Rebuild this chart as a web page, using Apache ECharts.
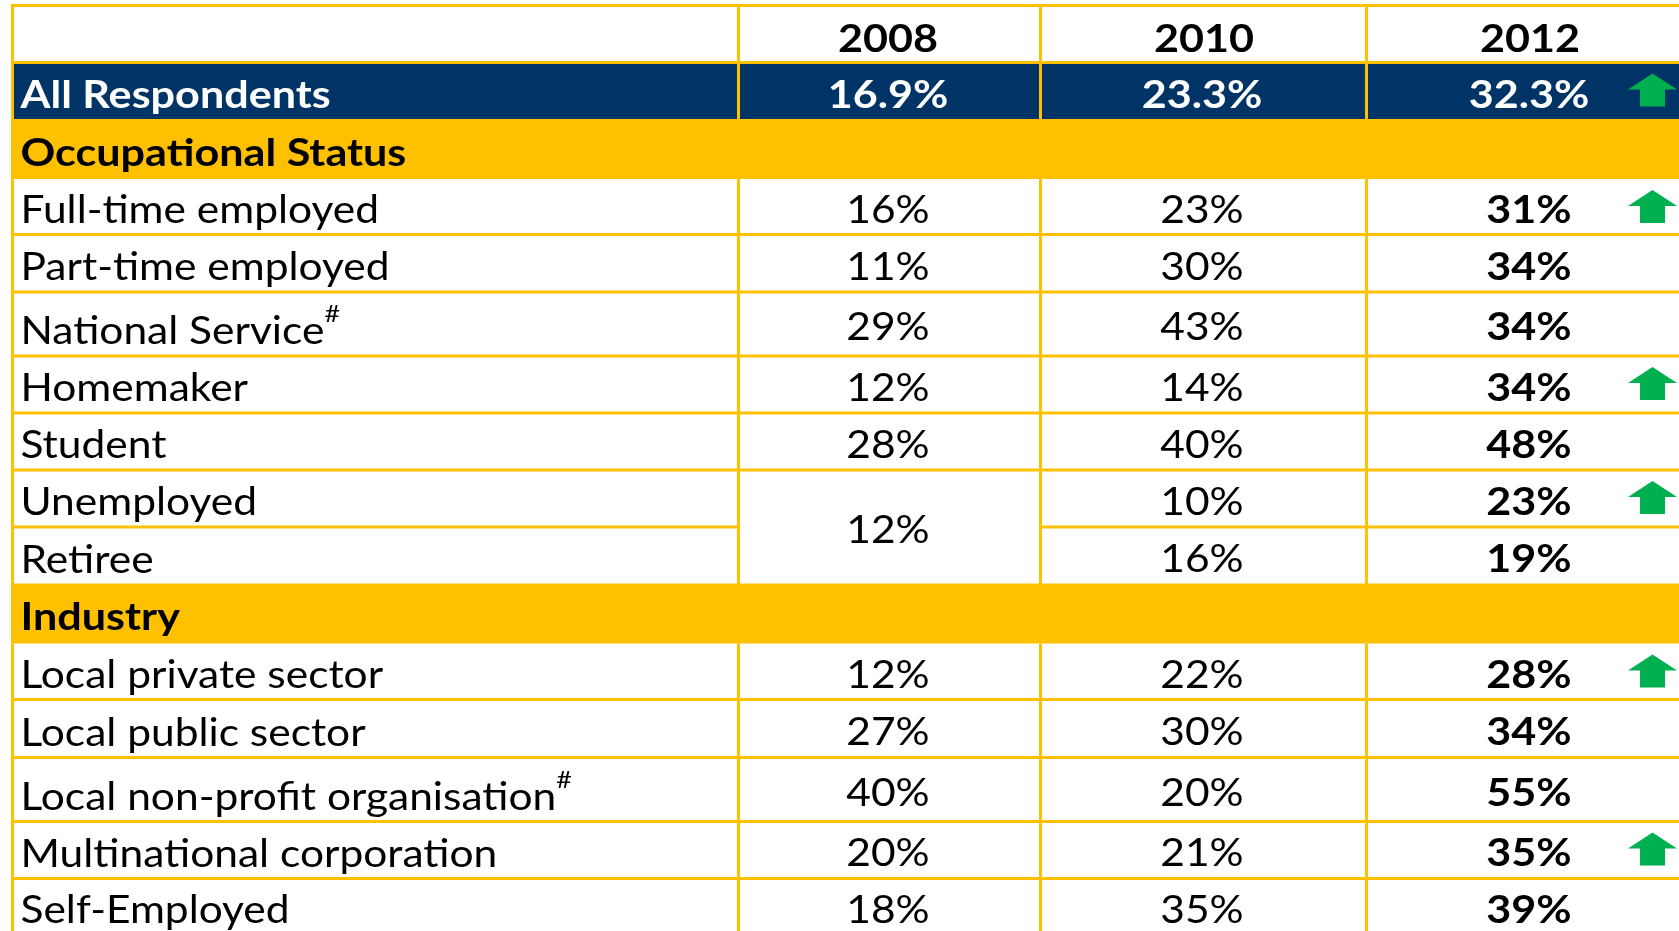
<!DOCTYPE html>
<html><head><meta charset="utf-8">
<script src="https://cdn.jsdelivr.net/npm/echarts@6/dist/echarts.min.js"></script>
<style>html,body{margin:0;padding:0;background:#fff;overflow:hidden}#c{width:1679px;height:931px}</style>
</head><body><div id="c"></div>
<script>
// ---- data ----
const years = ['2008','2010','2012'];
const overallLabel = 'All Respondents';
const overall = ['16.9%','23.3%','32.3%'];
const occupationTitle = 'Occupational Status';
const occupationLabels = ['Full-time employed','Part-time employed','National Service','Homemaker','Student','Unemployed','Retiree'];
const occupation2008 = [16,11,29,12,28,12,null];
const occupation2010 = [23,30,43,14,40,10,16];
const occupation2012 = [31,34,34,34,48,23,19];
const occupationUp = [true,false,false,true,false,true,false];
const occupationNote = [false,false,true,false,false,false,false];
const industryTitle = 'Industry';
const industryLabels = ['Local private sector','Local public sector','Local non-profit organisation','Multinational corporation','Self-Employed'];
const industry2008 = [12,27,40,20,18];
const industry2010 = [22,30,20,21,35];
const industry2012 = [28,34,55,35,39];
const industryUp = [true,false,false,true,false];
const industryNote = [false,false,true,false,false];

// ---- layout (page pixels on the hidden axes) ----
const rowEdges = [5.5,62.5,119,179,234.5,292,356,413,470,527,585,643.5,699.5,757.5,821.5,878.5,935];
const colEdges = [12.5,738.5,1040.5,1366.5,1690];
const valueCenter = [888,1202,1529];
const headCenter = [888,1204,1530];
const GOLD='#FFC000', NAVY='#003366', GREEN='#00B050';
const FONT='Lato, sans-serif';
const FS=38, NOTE_FS=24, REG_X=1.118, BOLD_X=1.135, TOP_OFFSET=31;

// ---- build cell table from the arrays ----
const rows=[];
rows.push({type:'head',label:'',vals:years});
rows.push({type:'all',label:overallLabel,vals:overall,up:true});
rows.push({type:'section',label:occupationTitle});
occupationLabels.forEach((l,i)=>rows.push({type:'row',label:l,note:occupationNote[i],up:occupationUp[i],
  vals:[occupation2008[i],occupation2010[i],occupation2012[i]].map(v=>v==null?null:v+'%'),merge:i===5}));
rows.push({type:'section',label:industryTitle});
industryLabels.forEach((l,i)=>rows.push({type:'row',label:l,note:industryNote[i],up:industryUp[i],
  vals:[industry2008[i],industry2010[i],industry2012[i]].map(v=>v+'%')}));

const chart=echarts.init(document.getElementById('c'),null,{renderer:'canvas'});
const measure=document.createElement('canvas').getContext('2d');

function renderRow(params,api){
  const r=rows[params.dataIndex], i=params.dataIndex;
  const top=rowEdges[i], bot=rowEdges[i+1];
  const P=(x,y)=>api.coord([x,y]);
  const kids=[];
  const rect=(x0,y0,x1,y1,fill)=>{const a=P(x0,y0),b=P(x1,y1);kids.push({type:'rect',shape:{x:a[0],y:a[1],width:b[0]-a[0],height:b[1]-a[1]},style:{fill}});};
  const L=3;
  const hline=(x0,x1,y)=>rect(x0,y-L/2,x1,y+L/2,GOLD);
  const vline=(x,y0,y1)=>rect(x-L/2,y0,x+L/2,y1,GOLD);
  const right=colEdges[4];
  const left=colEdges[0]-L/2;
  if(r.type==='all') rect(left,top,right,bot,NAVY);
  if(r.type==='section') rect(left,top,right,bot,GOLD);
  if(r.type!=='section'){
    vline(colEdges[0],top,bot);
    [1,2,3].forEach(c=>vline(colEdges[c],top,bot));
  }
  if(i===0) hline(left,right,top);
  if(r.type!=='section'&&r.type!=='all'){
    if(r.merge){ hline(left,colEdges[1],bot); hline(colEdges[2],right,bot); }
    else hline(left,right,bot);
  }
  if(i===1) hline(left,right,top);
  const color=r.type==='all'?'#fff':'#000';
  const textEl=(x,base,text,bold,align,fs)=>{
    const size=fs||FS;
    const p=P(x,base-TOP_OFFSET*size/FS);
    return {type:'text',x:p[0],y:p[1],scaleX:bold?BOLD_X:REG_X,z2:5,
      style:{text,font:`${bold?700:400} ${size}px ${FONT}`,fill:color,textAlign:align,verticalAlign:'top'}};
  };
  if(r.label){
    const base=r.type==='section'?bot-13.5:(r.type==='all'?bot-11:bot-12);
    const bold=r.type!=='row';
    kids.push(textEl(20.5,base,r.label,bold,'left'));
    if(r.note){
      measure.font=`400 ${FS}px ${FONT}`;
      const w=measure.measureText(r.label).width*REG_X;
      kids.push(textEl(20.5+w,base-22,'#',false,'left',NOTE_FS));
    }
  }
  if(r.vals){
    r.vals.forEach((v,c)=>{
      if(v==null) return;
      const bold=r.type!=='row'||c===2;
      let base;
      if(r.type==='head') base=bot-11;
      else if(r.type==='all') base=bot-11;
      else if(r.merge&&c===0) base=(top+rowEdges[i+2])/2+15.5;
      else base=(top+bot)/2+16;
      const cx=r.type==='head'?headCenter[c]:valueCenter[c];
      kids.push(textEl(cx,base,v,bold,'center'));
    });
  }
  if(r.up){
    const pts=[[1652.5,top+11],[1677,top+27],[1665,top+27],[1665,top+44],[1640,top+44],[1640,top+27],[1628,top+27]].map(q=>P(q[0],q[1]));
    kids.push({type:'polygon',shape:{points:pts},style:{fill:GREEN},z2:6});
  }
  return {type:'group',children:kids};
}

chart.setOption({
  animation:false,
  backgroundColor:'#fff',
  grid:{left:0,right:0,top:0,bottom:0},
  xAxis:{type:'value',min:0,max:1679,show:false},
  yAxis:{type:'value',min:0,max:931,inverse:true,show:false},
  series:[{type:'custom',coordinateSystem:'cartesian2d',clip:true,silent:true,
    renderItem:renderRow,
    data:rows.map((r,i)=>[0,i])}]
});
</script></body></html>
